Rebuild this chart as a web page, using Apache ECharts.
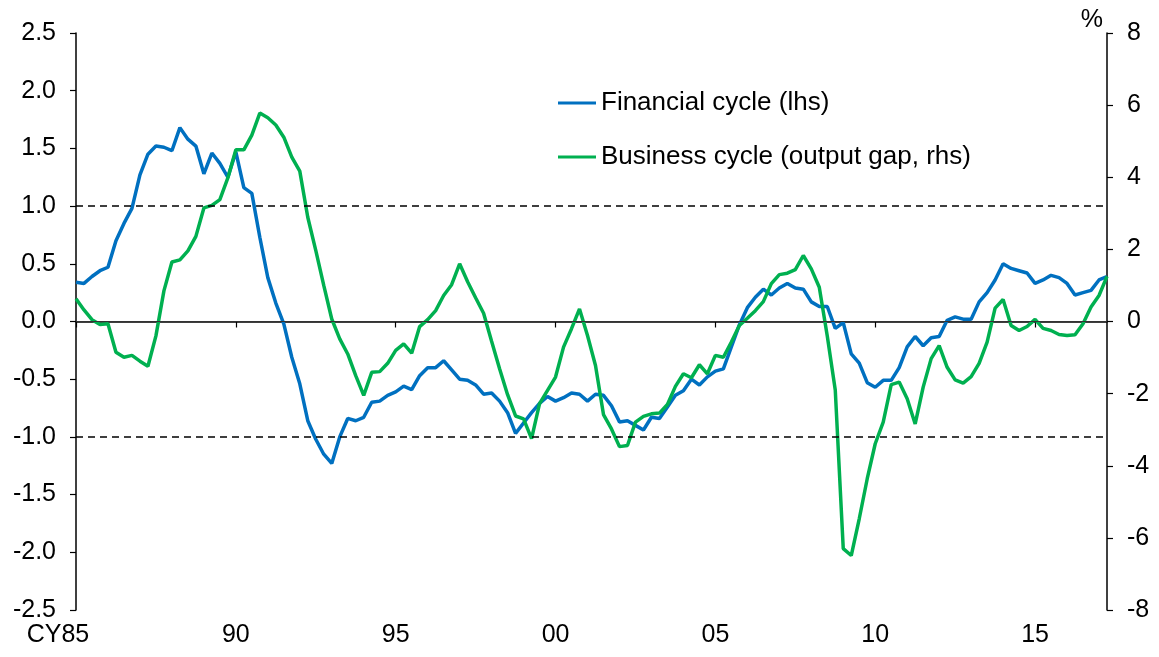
<!DOCTYPE html>
<html>
<head>
<meta charset="utf-8">
<script src="https://cdn.jsdelivr.net/npm/echarts@6/dist/echarts.min.js"></script>
<style>
  html, body { margin: 0; padding: 0; background: #fff; }
  #chart { width: 1159px; height: 657px; }
</style>
</head>
<body>
<div id="chart"></div>
<script>
// quarterly, 1985Q1 .. 2017Q2
const startYear = 1985;
const quarterCount = 130;

// financial cycle, lhs
const financialCycle = [
  0.34, 0.33, 0.39, 0.44,   0.47, 0.70, 0.85, 0.98,   1.27, 1.45, 1.52, 1.51,
  1.48, 1.68, 1.58, 1.52,   1.28, 1.46, 1.37, 1.25,   1.47, 1.16, 1.11, 0.73,
  0.38, 0.16, -0.02, -0.31, -0.54, -0.86, -1.02, -1.15, -1.23, -1.00, -0.84, -0.86,
  -0.83, -0.70, -0.69, -0.64, -0.61, -0.56, -0.59, -0.47, -0.40, -0.40, -0.34, -0.42,
  -0.50, -0.51, -0.55, -0.63, -0.62, -0.69, -0.79, -0.97, -0.88, -0.79, -0.71, -0.65,
  -0.69, -0.66, -0.62, -0.63, -0.69, -0.63, -0.64, -0.73, -0.87, -0.86, -0.90, -0.94,
  -0.83, -0.84, -0.74, -0.64, -0.60, -0.50, -0.55, -0.48, -0.43, -0.41, -0.22, -0.03,
  0.12, 0.21, 0.28, 0.23,   0.29, 0.33, 0.29, 0.28,   0.17, 0.13, 0.13, -0.06,
  -0.01, -0.28, -0.36, -0.53, -0.57, -0.51, -0.51, -0.40, -0.22, -0.13, -0.21, -0.14,
  -0.13, 0.01, 0.04, 0.02,  0.02, 0.17, 0.25, 0.36,   0.50, 0.46, 0.44, 0.42,
  0.33, 0.36, 0.40, 0.38,   0.33, 0.23, 0.25, 0.27,   0.36, 0.39
];

// business cycle (output gap), rhs, %
const businessCycle = [
  0.63, 0.32, 0.05, -0.08,  -0.06, -0.85, -0.99, -0.94, -1.10, -1.24, -0.40, 0.85,
  1.65, 1.71, 1.96, 2.36,   3.15, 3.22, 3.38, 3.98,   4.76, 4.76, 5.17, 5.78,
  5.65, 5.45, 5.11, 4.56,   4.17, 2.89, 1.97, 1.00,   0.07, -0.48, -0.90, -1.50,
  -2.05, -1.41, -1.39, -1.16, -0.80, -0.62, -0.88, -0.14, 0.05, 0.30, 0.72, 1.02,
  1.60, 1.10, 0.66, 0.23,   -0.55, -1.31, -2.03, -2.62, -2.70, -3.25, -2.28, -1.91,
  -1.54, -0.71, -0.20, 0.35, -0.39, -1.22, -2.58, -2.98, -3.47, -3.44, -2.79, -2.63,
  -2.56, -2.54, -2.30, -1.80, -1.45, -1.56, -1.20, -1.45, -0.94, -0.99, -0.57, -0.11,
  0.09, 0.30, 0.55, 1.05,   1.30, 1.34, 1.44, 1.83,   1.46, 0.95, -0.40, -1.90,
  -6.30, -6.49, -5.47, -4.36, -3.39, -2.79, -1.75, -1.68, -2.14, -2.84, -1.82, -1.03,
  -0.67, -1.27, -1.62, -1.71, -1.53, -1.16, -0.57, 0.37, 0.61, -0.11, -0.25, -0.14,
  0.06, -0.19, -0.25, -0.36, -0.39, -0.37, -0.06, 0.40, 0.72, 1.25
];

const quarters = [];
for (let i = 0; i < quarterCount; i++) {
  quarters.push((startYear + Math.floor(i / 4)) + 'Q' + (i % 4 + 1));
}

const FONT = 'Liberation Sans, Arial, sans-serif';
const FS = 25;
const BLUE = '#0070C0';
const GREEN = '#00B050';

// label/tick only on Q1 of years ending in 0 or 5
const isMajor = (idx, val) => val.endsWith('Q1') && (+val.slice(0, 4)) % 5 === 0;

const option = {
  animation: false,
  backgroundColor: '#fff',
  grid: { left: 76, right: 52, top: 33, bottom: 47, containLabel: false },
  legend: {
    orient: 'vertical',
    left: 553,
    top: 85,
    icon: 'rect',
    itemWidth: 38,
    itemHeight: 3,
    itemGap: 28,
    textStyle: { fontFamily: FONT, fontSize: 26, color: '#000' },
    data: ['Financial cycle (lhs)', 'Business cycle (output gap, rhs)']
  },
  xAxis: {
    type: 'category',
    data: quarters,
    boundaryGap: false,
    axisLine: { lineStyle: { color: '#000', width: 1.5 } },
    axisTick: { interval: isMajor, length: 6, lineStyle: { color: '#000', width: 1.2 } },
    axisLabel: {
      interval: isMajor,
      margin: 13,
      fontFamily: FONT,
      fontSize: FS,
      color: '#000',
      formatter: v => {
        const y = +v.slice(0, 4);
        if (y === startYear) return '{first|CY85}';
        return String(y % 100).padStart(2, '0');
      },
      rich: {
        first: { fontFamily: FONT, fontSize: FS, color: '#000', padding: [0, 36, 0, 0] }
      }
    },
    splitLine: { show: false }
  },
  yAxis: [
    {
      type: 'value',
      min: -2.5, max: 2.5, interval: 0.5,
      axisLine: { show: true, onZero: false, lineStyle: { color: '#000', width: 1.5 } },
      axisTick: { show: true, length: 6, lineStyle: { color: '#000', width: 1.2 } },
      axisLabel: {
        margin: 20, fontFamily: FONT, fontSize: FS, color: '#000',
        formatter: v => v.toFixed(1)
      },
      splitLine: { show: false }
    },
    {
      type: 'value',
      min: -8, max: 8, interval: 2,
      name: '%',
      nameLocation: 'end',
      nameGap: 0,
      nameTextStyle: { fontFamily: FONT, fontSize: FS, color: '#000', align: 'right', verticalAlign: 'bottom', padding: [0, 4, 0, 0] },
      axisLine: { show: true, onZero: false, lineStyle: { color: '#000', width: 1.5 } },
      axisTick: { show: true, length: 6, lineStyle: { color: '#000', width: 1.2 } },
      axisLabel: { margin: 20, fontFamily: FONT, fontSize: FS, color: '#000' },
      splitLine: { show: false }
    }
  ],
  series: [
    {
      name: 'Financial cycle (lhs)',
      type: 'line',
      yAxisIndex: 0,
      data: financialCycle,
      symbol: 'none',
      lineStyle: { color: BLUE, width: 3.5 },
      itemStyle: { color: BLUE },
      markLine: {
        silent: true,
        symbol: 'none',
        label: { show: false },
        data: [
          { yAxis: 1, lineStyle: { color: '#000', width: 1.5, type: [7, 5] } },
          { yAxis: -1, lineStyle: { color: '#000', width: 1.5, type: [7, 5] } },
          { yAxis: 0, lineStyle: { color: '#333', width: 1.2, type: 'solid' } }
        ]
      }
    },
    {
      name: 'Business cycle (output gap, rhs)',
      type: 'line',
      yAxisIndex: 1,
      data: businessCycle,
      symbol: 'none',
      lineStyle: { color: GREEN, width: 3.5 },
      itemStyle: { color: GREEN }
    }
  ]
};

const chart = echarts.init(document.getElementById('chart'), null, { renderer: 'canvas' });
chart.setOption(option);
</script>
</body>
</html>
